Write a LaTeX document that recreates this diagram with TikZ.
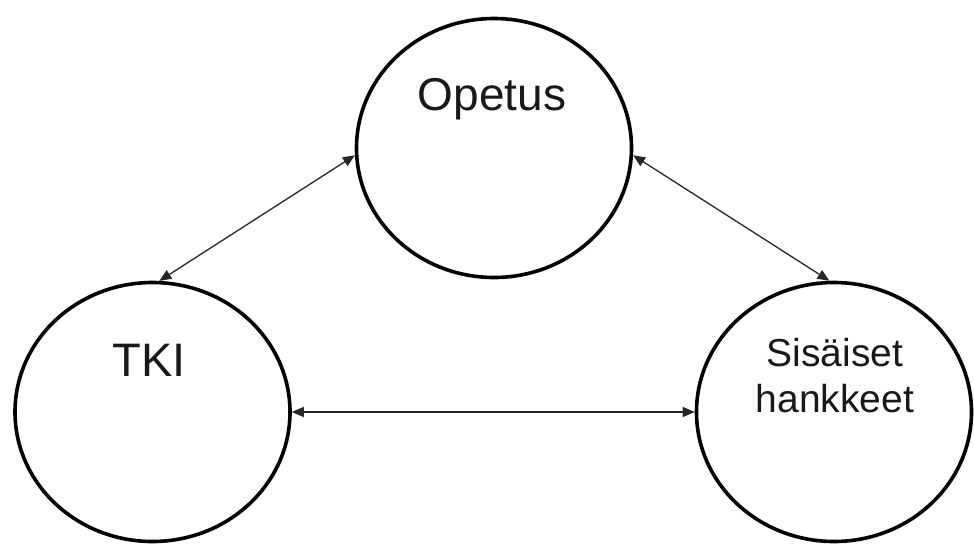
\documentclass[tikz,border=0pt]{standalone}
\usepackage{fontspec}
\setmainfont{Liberation Sans}
\usetikzlibrary{shapes.geometric,arrows.meta}
\begin{document}
\begin{tikzpicture}[x=1pt,y=-1pt,
  unit/.style={draw=black, line width=3.6pt, ellipse, inner sep=0pt,
    minimum width=275pt, minimum height=259pt},
  lbl/.style={anchor=base, inner sep=0pt, text=black!90},
  link/.style={line width=1.3pt, draw=black!85,
    {Triangle[length=12pt,width=10pt]}-{Triangle[length=12pt,width=10pt]}}]
  \useasboundingbox (0,0) rectangle (974,547);
  % the three units
  \node[unit] (top)   at (494,148) {};
  \node[unit] (left)  at (152.5,412) {};
  \node[unit] (right) at (834,412) {};
  % labels
  \node[lbl, font=\fontsize{46}{46}\selectfont] (topl) at (492,110) {Opetus};
  \node[lbl, font=\fontsize{47}{47}\selectfont] (leftl) at (149,376) {TKI};
  \node[lbl, font=\fontsize{39}{39}\selectfont] (rightl1) at (835,366) {Sisäiset};
  \node[lbl, font=\fontsize{39}{39}\selectfont] (rightl2) at (835,412) {hankkeet};
  % connections
  \draw[link] (left.87.5) -- (top.183);
  \draw[link] (top.-3) -- (right.92.5);
  \draw[link] (left.east) -- (right.west);
\end{tikzpicture}
\end{document}
